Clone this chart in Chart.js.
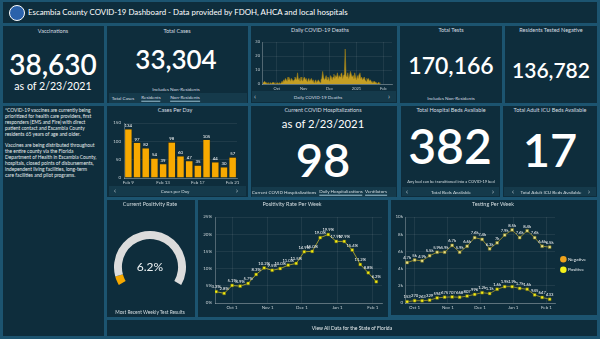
<!DOCTYPE html>
<html><head><meta charset="utf-8">
<script src="https://cdn.jsdelivr.net/npm/chart.js@4.4.1/dist/chart.umd.min.js"></script>
<style>
*{box-sizing:border-box}
html,body{margin:0;padding:0;width:600px;height:339px;overflow:hidden;background:#1c5470;font-family:Lato,"Open Sans",sans-serif;color:#fff}
.p{position:absolute;background:#0e2d3c}
.s{position:absolute;background:#153a4b}
.c{position:absolute;transform:translate(-50%,-50%);white-space:nowrap;line-height:1}
.ttl{font-size:5.5px;color:#d5dee2}
.cap{font-size:4.6px;color:#d5dee2}
.arw{font-size:7px;color:#c9d4d9}
.ul{border-bottom:0.8px solid #9cc3d3;padding-bottom:1px}
.big{color:#ffffff;font-weight:600}
canvas{position:absolute}
</style></head><body>
<!-- header -->
<div class="p" style="left:3px;top:2px;width:594px;height:21px"></div>
<div style="position:absolute;left:9px;top:5px;width:16px;height:16px;border-radius:50%;background:#2b62ab;border:1.5px solid #fff"></div>
<div style="position:absolute;left:28px;top:13px;transform:translateY(-50%);font-size:7.9px;line-height:1;white-space:nowrap;color:#fff">Escambia County COVID-19 Dashboard - Data provided by FDOH, AHCA and local hospitals</div>

<!-- row 1 -->
<div class="p" style="left:3px;top:26px;width:101px;height:77px"></div>
<div class="c ttl" style="left:53px;top:32px">Vaccinations</div>
<div class="c big" style="left:53px;top:64px;font-size:28px">38,630</div>
<div class="c big" style="left:53px;top:86px;font-size:10.6px;font-weight:400">as of 2/23/2021</div>

<div class="p" style="left:107px;top:26px;width:141px;height:77px"></div>
<div class="c ttl" style="left:177px;top:32px">Total Cases</div>
<div class="c big" style="left:176px;top:59px;font-size:26px">33,304</div>
<div class="c cap" style="left:176px;top:89px">Includes Non-Residents</div>
<div class="s" style="left:109px;top:93px;width:138px;height:10px"></div>
<div class="c cap" style="left:123px;top:98px">Total Cases</div>
<div class="c cap ul" style="left:151px;top:98px">Residents</div>
<div class="c cap ul" style="left:185px;top:98px">Non-Residents</div>

<div class="p" style="left:251px;top:26px;width:146px;height:77px"></div>
<div class="c ttl" style="left:320px;top:31px">Daily COVID-19 Deaths</div>
<div class="s" style="left:252px;top:91px;width:144px;height:11px"></div>
<div class="c arw" style="left:255px;top:96px">‹</div>
<div class="c cap" style="left:318px;top:97px">Daily COVID-19 Deaths</div>
<div class="c arw" style="left:389px;top:96px">›</div>
<canvas id="cDeaths" width="144" height="55" style="left:252px;top:36px"></canvas>

<div class="p" style="left:400px;top:26px;width:102px;height:77px"></div>
<div class="c ttl" style="left:451px;top:31px">Total Tests</div>
<div class="c big" style="left:451px;top:65px;font-size:23px">170,166</div>
<div class="c cap" style="left:451px;top:98px">Includes Non-Residents</div>

<div class="p" style="left:505px;top:26px;width:92px;height:77px"></div>
<div class="c ttl" style="left:551px;top:31px">Residents Tested Negative</div>
<div class="c big" style="left:551px;top:69px;font-size:21px">136,782</div>

<!-- row 2 -->
<div class="p" style="left:3px;top:106px;width:101px;height:230px"></div>
<div style="position:absolute;left:5px;top:108px;width:100px;font-size:4.9px;line-height:5.9px;color:#e8eef0;white-space:nowrap">*COVID-19 vaccines are currently being<br>prioritized for health care providers, first<br>responders (EMS and Fire) with direct<br>patient contact and Escambia County<br>residents 65 years of age and older.<br><br>Vaccines are being distributed throughout<br>the entire county via the Florida<br>Department of Health in Escambia County,<br>hospitals, closed points of disbursements,<br>independent living facilities, long-term<br>care facilities and pilot programs.</div>

<div class="p" style="left:107px;top:106px;width:141px;height:91px"></div>
<div class="c ttl" style="left:175px;top:111px">Cases Per Day</div>
<canvas id="cCases" width="137" height="72" style="left:108px;top:115px"></canvas>
<div class="s" style="left:109px;top:186px;width:137px;height:10px"></div>
<div class="c arw" style="left:115px;top:190px">‹</div>
<div class="c cap" style="left:175px;top:191px">Cases per Day</div>
<div class="c arw" style="left:237px;top:190px">›</div>

<div class="p" style="left:251px;top:106px;width:146px;height:91px"></div>
<div class="c ttl" style="left:323px;top:111px">Current COVID Hospitalizations</div>
<div class="c big" style="left:323px;top:124px;font-size:11.3px;font-weight:400">as of 2/23/2021</div>
<div class="c big" style="left:323px;top:159px;font-size:47px">98</div>
<div class="s" style="left:252px;top:187px;width:144px;height:10px"></div>
<div class="c cap" style="left:284px;top:192px">Current COVID Hospitalizations</div>
<div class="c cap ul" style="left:341px;top:192px">Daily Hospitalizations</div>
<div class="c cap ul" style="left:376px;top:192px">Ventilators</div>

<div class="p" style="left:401px;top:106px;width:99px;height:91px"></div>
<div class="c ttl" style="left:451px;top:111px">Total Hospital Beds Available</div>
<div class="c big" style="left:450px;top:146px;font-size:48px">382</div>
<div class="c" style="left:451px;top:182px;font-size:4px;color:#d5dee2">Any bed can be transitioned into a COVID-19 bed</div>
<div class="s" style="left:402px;top:187px;width:97px;height:9px"></div>
<div class="c arw" style="left:407px;top:191px">‹</div>
<div class="c cap" style="left:451px;top:192px">Total Beds Available</div>
<div class="c arw" style="left:493px;top:191px">›</div>

<div class="p" style="left:503px;top:106px;width:94px;height:91px"></div>
<div class="c ttl" style="left:550px;top:111px">Total Adult ICU Beds Available</div>
<div class="c big" style="left:550px;top:149px;font-size:47px">17</div>
<div class="s" style="left:504px;top:187px;width:92px;height:9px"></div>
<div class="c arw" style="left:513px;top:191px">‹</div>
<div class="c cap" style="left:551px;top:192px">Total Adult ICU Beds Available</div>
<div class="c arw" style="left:589px;top:191px">›</div>

<!-- row 3 -->
<div class="p" style="left:107px;top:200px;width:88px;height:117px"></div>
<div class="c ttl" style="left:150px;top:205px">Current Positivity Rate</div>
<canvas id="cGauge" width="72" height="54" style="left:114px;top:231px"></canvas>
<div class="c" style="left:150px;top:267px;font-size:12px;color:#eef3f5">6.2%</div>
<div class="c cap" style="left:150px;top:312px;font-size:4.8px">Most Recent Weekly Test Results</div>

<div class="p" style="left:198px;top:200px;width:190px;height:117px"></div>
<div class="c ttl" style="left:292px;top:205px">Positivity Rate Per Week</div>
<canvas id="cPos" width="188" height="104" style="left:199px;top:210px"></canvas>

<div class="p" style="left:391px;top:200px;width:206px;height:115px"></div>
<div class="c ttl" style="left:493px;top:205px">Testing Per Week</div>
<canvas id="cTest" width="203" height="102" style="left:393px;top:210px"></canvas>

<div class="p" style="left:107px;top:320px;width:490px;height:16px"></div>
<div class="c" style="left:352px;top:328px;font-size:5px;color:#e8eef0">View All Data for the State of Florida</div>

<script>
// ---------------- data ----------------
const caseDays = ['Feb 9','Feb 10','Feb 11','Feb 12','Feb 13','Feb 14','Feb 15','Feb 16','Feb 17','Feb 18','Feb 19','Feb 20','Feb 21'];
const casesPerDay = [134, 97, 82, 54, 39, 98, 60, 47, 35, 105, 44, 30, 57];
const caseTickLabels = ['Feb 9','Feb 13','Feb 17','Feb 21'];

const deathsStart = '2020-09-15';
const dailyDeaths = [
  1,1,2,1,1,0,1,0,
  0,1,0,1,1,1,0,1,
  0,1,0,1,0,1,2,1,
  3,2,4,3,2,5,3,4,
  2,4,3,2,3,5,4,3,
  8,3,4,2,5,3,2,4,
  5,3,4,2,3,4,2,3,
  4,2,3,1,2,3,1,2,
  3,2,1,3,4,9,5,3,
  4,6,3,5,4,2,6,5,
  3,5,7,4,6,5,8,4,
  6,5,7,8,4,6,7,25,
  6,5,8,4,6,9,7,5,
  6,4,8,5,3,6,4,7,
  8,4,5,3,4,5,3,2,
  4,3,4,2,3,2,1,2,
  1,2,1,1,0,1,1,0
];
const deathTickDates = ['2020-10-01','2020-11-01','2020-12-01','2021-01-01','2021-02-01'];
const deathTickLabels = ['Oct','Nov','Dec','2021','Feb'];

const posWeeks = ['2020-09-17','2020-09-24','2020-10-01','2020-10-08','2020-10-15','2020-10-22','2020-10-29','2020-11-05','2020-11-12','2020-11-19','2020-11-26','2020-12-03','2020-12-10','2020-12-17','2020-12-24','2020-12-31','2021-01-07','2021-01-14','2021-01-21','2021-01-28','2021-02-04'];
const positivityRate = [3.3, 2.8, 5.1, 4.9, 5.7, 8.3, 10.2, 9.5, 10.0, 11.0, 11.5, 14.9, 15.0, 19.0, 19.9, 17.9, 17.9, 15.4, 11.2, 8.8, 6.2];

const testWeeks = ['2020-09-24','2020-10-01','2020-10-08','2020-10-15','2020-10-22','2020-10-29','2020-11-05','2020-11-12','2020-11-19','2020-11-26','2020-12-03','2020-12-10','2020-12-17','2020-12-24','2020-12-31','2021-01-07','2021-01-14','2021-01-21','2021-01-28','2021-02-04'];
const negativeTests = [4700, 5000, 4900, 5500, 5900, 5900, 6700, 5900, 6600, 7600, 7400, 6300, 7000, 7900, 8500, 7600, 8400, 7600, 6600, 6500];
const positiveTests = [153, 270, 263, 329, 594, 675, 707, 668, 807, 996, 1200, 1100, 1600, 1900, 1900, 1700, 1600, 945, 647, 433];
const testSeriesNames = ['Negative','Positive'];
const legendColors = ['#f0a31c','#f3f01a'];

const weekTickDates = ['2020-10-01','2020-11-01','2020-12-01','2021-01-01','2021-02-01'];
const weekTickLabels = ['Oct 1','Nov 1','Dec 1','Jan 1','Feb 1'];

const gaugeValue = 6.2;
const gaugeMax = 100;

// ---------------- helpers ----------------
Chart.defaults.font.family = 'Lato, "Open Sans", sans-serif';
Chart.defaults.color = '#c8d2d6';
const GRID = 'rgba(255,255,255,0.07)', AXIS = 'rgba(255,255,255,0.28)';
const day = s => (Date.parse(s) - Date.parse('2020-10-01')) / 864e5;
const fixW = w => ax => { ax.width = w; };
const fixH = h => ax => { ax.height = h; };
const base = {responsive:false, animation:false, devicePixelRatio:1};

function labelPlugin(fmt, size, offset){
  return {id:'lbl', afterDatasetsDraw(chart){
    const ctx = chart.ctx; ctx.save();
    ctx.font = size + 'px Lato, "Open Sans", sans-serif';
    ctx.fillStyle = '#ffffff'; ctx.textAlign = 'center'; ctx.textBaseline = 'bottom';
    chart.data.datasets.forEach((ds, di) => {
      chart.getDatasetMeta(di).data.forEach((el, i) => {
        const v = ds.data[i]; const y = (v && typeof v === 'object') ? v.y : v;
        ctx.fillText(fmt(y), el.x, el.y - offset);
      });
    });
    ctx.restore();
  }};
}
function xDays(min, max, tickDates, tickLabels, size, h){
  return {type:'linear', min, max,
    afterBuildTicks: ax => { ax.ticks = tickDates.map(d => ({value: day(d)})); },
    ticks:{font:{size}, padding:2, maxRotation:0, autoSkip:false, callback:(v, i) => tickLabels[i]},
    grid:{color:GRID, drawTicks:false}, border:{color:AXIS}, afterFit:fixH(h)};
}
const kfmt = v => v < 1000 ? String(v) : (Math.round(v / 100) / 10) + 'k';

// ---------------- cases per day ----------------
new Chart(document.getElementById('cCases'), {
  type:'bar',
  data:{labels:caseDays, datasets:[{data:casesPerDay, backgroundColor:'#f7a900', borderColor:'#3b2c06', borderWidth:0.6, barPercentage:0.88, categoryPercentage:1}]},
  options:{...base, layout:{padding:{top:8, right:8, left:0, bottom:0}},
    plugins:{legend:{display:false}, tooltip:{enabled:false}},
    scales:{
      x:{ticks:{font:{size:4.5}, padding:2, maxRotation:0, autoSkip:false, callback:(v, i) => caseTickLabels.includes(caseDays[i]) ? caseDays[i] : ''}, grid:{display:false, drawTicks:false}, border:{color:AXIS}, afterFit:fixH(9)},
      y:{min:0, max:150, ticks:{stepSize:50, font:{size:4.5}, padding:3}, grid:{color:GRID, drawTicks:false}, border:{color:AXIS}, afterFit:fixW(16)}
    }},
  plugins:[labelPlugin(v => String(v), 4.3, 1)]
});

// ---------------- daily deaths ----------------
new Chart(document.getElementById('cDeaths'), {
  type:'line',
  data:{datasets:[{data:dailyDeaths.map((v, i) => ({x:day(deathsStart) + i, y:v})), fill:'origin', backgroundColor:'#c49f24', borderColor:'#9c7e17', borderWidth:0.6, pointRadius:0, tension:0}]},
  options:{...base, layout:{padding:{top:6, right:4}},
    plugins:{legend:{display:false}, tooltip:{enabled:false}},
    scales:{
      x:xDays(-17, 133, deathTickDates, deathTickLabels, 4, 7),
      y:{min:0, max:30, ticks:{stepSize:10, font:{size:4}, padding:2}, grid:{color:GRID, drawTicks:false}, border:{color:AXIS}, afterFit:fixW(10)}
    }}
});

// ---------------- positivity per week ----------------
new Chart(document.getElementById('cPos'), {
  type:'line',
  data:{datasets:[{data:posWeeks.map((d, i) => ({x:day(d), y:positivityRate[i]})), borderColor:'#c7b52c', borderWidth:0.8, pointStyle:'rect', pointRadius:2, pointBackgroundColor:'#f4f012', pointBorderColor:'#6b6510', pointBorderWidth:0.5, tension:0}]},
  options:{...base, layout:{padding:{top:7, right:5}},
    plugins:{legend:{display:false}, tooltip:{enabled:false}},
    scales:{
      x:xDays(-15, 131, weekTickDates, weekTickLabels, 4.5, 11),
      y:{min:0, max:25, ticks:{stepSize:5, font:{size:4.5}, padding:3, callback:v => v + '%'}, grid:{color:GRID, drawTicks:false}, border:{color:AXIS}, afterFit:fixW(16)}
    }},
  plugins:[labelPlugin(v => v.toFixed(1) + '%', 4.2, 2.5)]
});

// ---------------- testing per week ----------------
new Chart(document.getElementById('cTest'), {
  type:'line',
  data:{datasets:[
    {label:testSeriesNames[0], data:testWeeks.map((d, i) => ({x:day(d), y:negativeTests[i]})), borderColor:'#aa9a2e', borderWidth:0.8, pointStyle:'rect', pointRadius:2, pointBackgroundColor:'#ebe38a', pointBorderColor:'#6b6510', pointBorderWidth:0.5, tension:0},
    {label:testSeriesNames[1], data:testWeeks.map((d, i) => ({x:day(d), y:positiveTests[i]})), borderColor:'#aa9a2e', borderWidth:0.8, pointStyle:'rect', pointRadius:2, pointBackgroundColor:'#f3f01a', pointBorderColor:'#6b6510', pointBorderWidth:0.5, tension:0}
  ]},
  options:{...base, layout:{padding:{top:7, right:0}},
    plugins:{tooltip:{enabled:false},
      legend:{position:'right', labels:{usePointStyle:true, pointStyle:'circle', boxWidth:5, boxHeight:5, padding:6, color:'#e8eef0', font:{size:4.6},
        generateLabels: chart => Chart.defaults.plugins.legend.labels.generateLabels(chart).map((l, i) => Object.assign(l, {fillStyle:legendColors[i], strokeStyle:legendColors[i], lineWidth:0}))}}},
    scales:{
      x:xDays(-9, 131, weekTickDates, weekTickLabels, 4.5, 9),
      y:{min:0, max:10000, ticks:{stepSize:2000, font:{size:4.5}, padding:2, callback:v => v === 0 ? '0' : (v / 1000) + 'k'}, grid:{color:GRID, drawTicks:false}, border:{color:AXIS}, afterFit:fixW(12)}
    }},
  plugins:[labelPlugin(kfmt, 4.2, 2.5)]
});

// ---------------- gauge ----------------
new Chart(document.getElementById('cGauge'), {
  type:'doughnut',
  data:{labels:['Positivity','Remainder'], datasets:[{data:[gaugeValue, gaugeMax - gaugeValue], backgroundColor:['#f5a800','#dcdcdc'], borderWidth:0}]},
  options:{...base, rotation:-120, circumference:240, cutout:'78%', plugins:{legend:{display:false}, tooltip:{enabled:false}}}
});
</script>
</body></html>
